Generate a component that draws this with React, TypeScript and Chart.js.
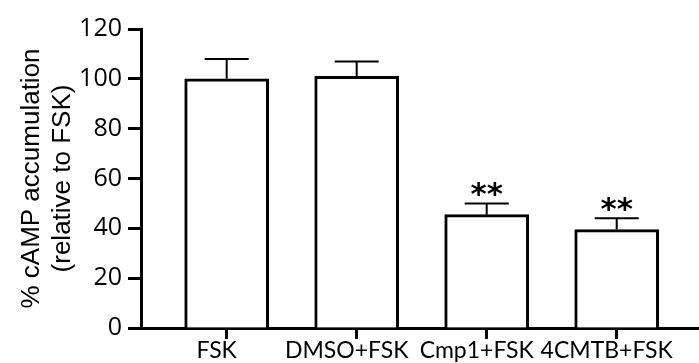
import React, { useEffect, useRef } from 'react';
import { Chart, registerables } from 'chart.js';

Chart.register(...registerables);

const categories = ['FSK', 'DMSO+FSK', 'Cmp1+FSK', '4CMTB+FSK'];
const means = [100, 101, 45.5, 39.5];
const errors = [8, 6, 4.5, 4.5];
const significance = ['', '', '**', '**'];
const yTicks = [0, 20, 40, 60, 80, 100, 120];
const yTitle = ['% cAMP accumulation', '(relative to FSK)'];

const errorBarPlugin = {
  id: 'errorBars',
  afterDatasetsDraw(chart: any) {
    const { ctx } = chart;
    const xs = chart.scales.x;
    const ys = chart.scales.y;
    ctx.save();
    ctx.strokeStyle = '#000';
    ctx.fillStyle = '#000';
    ctx.lineWidth = 2;
    means.forEach((m, i) => {
      const x = xs.getPixelForValue(i);
      const y0 = ys.getPixelForValue(m);
      const y1 = ys.getPixelForValue(m + errors[i]);
      ctx.beginPath();
      ctx.moveTo(x, y0);
      ctx.lineTo(x, y1);
      ctx.moveTo(x - 22, y1);
      ctx.lineTo(x + 22, y1);
      ctx.stroke();
      const s = significance[i];
      if (s) {
        ctx.font = 'bold 31px "DejaVu Sans"';
        ctx.textAlign = 'center';
        ctx.textBaseline = 'alphabetic';
        const mt = ctx.measureText(s);
        const bottom = y1 - 6.5;
        ctx.fillText(s, x, bottom - mt.actualBoundingBoxDescent);
      }
    });
    ctx.restore();
  },
};

export default function App() {
  const ref = useRef<HTMLCanvasElement>(null);
  useEffect(() => {
    document.body.style.margin = '0';
    const chart = new Chart(ref.current as HTMLCanvasElement, {
      type: 'bar',
      data: {
        datasets: [
          {
            data: means.map((v, i) => ({ x: i, y: v })),
            backgroundColor: '#ffffff',
            borderColor: '#000000',
            borderWidth: 3,
            barThickness: 84,
          },
        ],
      },
      options: {
        responsive: false,
        animation: false,
        layout: { padding: { top: 29, left: 0, right: 0, bottom: 0 } },
        plugins: { legend: { display: false }, tooltip: { enabled: false } },
        scales: {
          x: {
            type: 'linear',
            min: -0.659,
            max: 3.633,
            offset: false,
            afterBuildTicks: (scale: any) => {
              scale.ticks = categories.map((_, i) => ({ value: i }));
            },
            afterFit: (scale: any) => {
              scale.height = 35;
            },
            grid: {
              offset: false,
              drawOnChartArea: false,
              tickLength: 11,
              tickWidth: 3,
              color: '#000',
            },
            border: { display: true, width: 3, color: '#000' },
            ticks: {
              autoSkip: false,
              maxRotation: 0,
              labelOffset: -10,
              padding: -2,
              color: '#000',
              font: { family: 'Lato', size: 23 },
              callback: (v: any) => categories[v as number] ?? '',
            },
          },
          y: {
            type: 'linear',
            min: 0,
            max: 120,
            afterBuildTicks: (scale: any) => {
              scale.ticks = yTicks.map((v) => ({ value: v }));
            },
            afterFit: (scale: any) => {
              scale.width = 141;
            },
            grid: {
              drawOnChartArea: false,
              tickLength: 13,
              tickWidth: 3,
              color: '#000',
            },
            border: { display: true, width: 3, color: '#000' },
            ticks: {
              padding: 6,
              color: '#000',
              font: { family: '"Open Sans"', size: 25 },
            },
            title: {
              display: true,
              text: yTitle,
              color: '#000',
              padding: { top: 16, bottom: 0 },
              font: { family: '"Liberation Sans"', size: 26, lineHeight: 1.19 },
            },
          },
        },
      },
      plugins: [errorBarPlugin],
    } as any);
    return () => chart.destroy();
  }, []);
  return (
    <div style={{ position: 'absolute', left: 0, top: 0 }}>
      <canvas ref={ref} width={699} height={363} style={{ display: 'block' }} />
    </div>
  );
}
